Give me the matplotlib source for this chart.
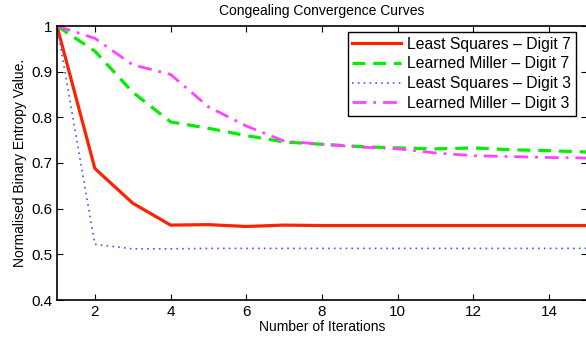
import numpy as np
import matplotlib
matplotlib.use("Agg")
import matplotlib.pyplot as plt

plt.rcParams["font.family"] = ["Liberation Sans", "DejaVu Sans"]

iterations = np.arange(1, 16)
ls_digit7 = [1.0, 0.688, 0.612, 0.564, 0.565, 0.561, 0.564, 0.563, 0.563, 0.563,
             0.563, 0.563, 0.563, 0.563, 0.563]
lm_digit7 = [1.0, 0.945, 0.855, 0.79, 0.776, 0.76, 0.746, 0.741, 0.736, 0.733,
             0.731, 0.733, 0.729, 0.727, 0.724]
ls_digit3 = [1.0, 0.522, 0.512, 0.512, 0.513, 0.513, 0.513, 0.513, 0.513, 0.513,
             0.513, 0.513, 0.513, 0.513, 0.513]
lm_digit3 = [1.0, 0.973, 0.915, 0.894, 0.823, 0.781, 0.748, 0.741, 0.735, 0.731,
             0.722, 0.716, 0.714, 0.712, 0.711]

labels = ["Least Squares \u2013 Digit 7", "Learned Miller \u2013 Digit 7",
          "Least Squares \u2013 Digit 3", "Learned Miller \u2013 Digit 3"]

fig = plt.figure(figsize=(5.86, 3.47), dpi=100)
ax = fig.add_axes([57 / 586, 1 - 300 / 347, 530 / 586, 274 / 347])

ax.plot(iterations, ls_digit7, color="#ff2200", lw=2.3, ls="-", label=labels[0])
ax.plot(iterations, lm_digit7, color="#00ee00", lw=2.3, ls=(0, (4, 2.5)), label=labels[1])
ax.plot(iterations, ls_digit3, color="#3a5cff", lw=1.2, ls=(0, (1, 2.5)), label=labels[2])
ax.plot(iterations, lm_digit3, color="#ff44ff", lw=2.0, ls=(0, (5, 2.5, 1, 2.5)), label=labels[3])

ax.set_xlim(1, 15)
ax.set_ylim(0.4, 1.0)
ax.set_xticks([2, 4, 6, 8, 10, 12, 14])
ax.set_yticks([0.4, 0.5, 0.6, 0.7, 0.8, 0.9, 1.0])
ax.set_yticklabels(["0.4", "0.5", "0.6", "0.7", "0.8", "0.9", "1"])
ax.tick_params(direction="in", top=True, right=True, labelsize=11, length=4, width=0.8)
for s in ax.spines.values():
    s.set_linewidth(1.2)

ax.set_title("Congealing Convergence Curves", fontsize=10, pad=8)
ax.set_xlabel("Number of Iterations", fontsize=10, labelpad=1)
ax.set_ylabel("Normalised Binary Entropy Value.", fontsize=10, labelpad=3)

leg = ax.legend(loc="upper right", bbox_to_anchor=(0.979, 0.978), fontsize=11.3,
                frameon=True, fancybox=False, edgecolor="black", framealpha=1,
                handlelength=3.1, borderpad=0.3, labelspacing=0.3,
                handletextpad=0.4, borderaxespad=0)
leg.get_frame().set_linewidth(1.0)

fig.savefig("out.png", dpi=100)
